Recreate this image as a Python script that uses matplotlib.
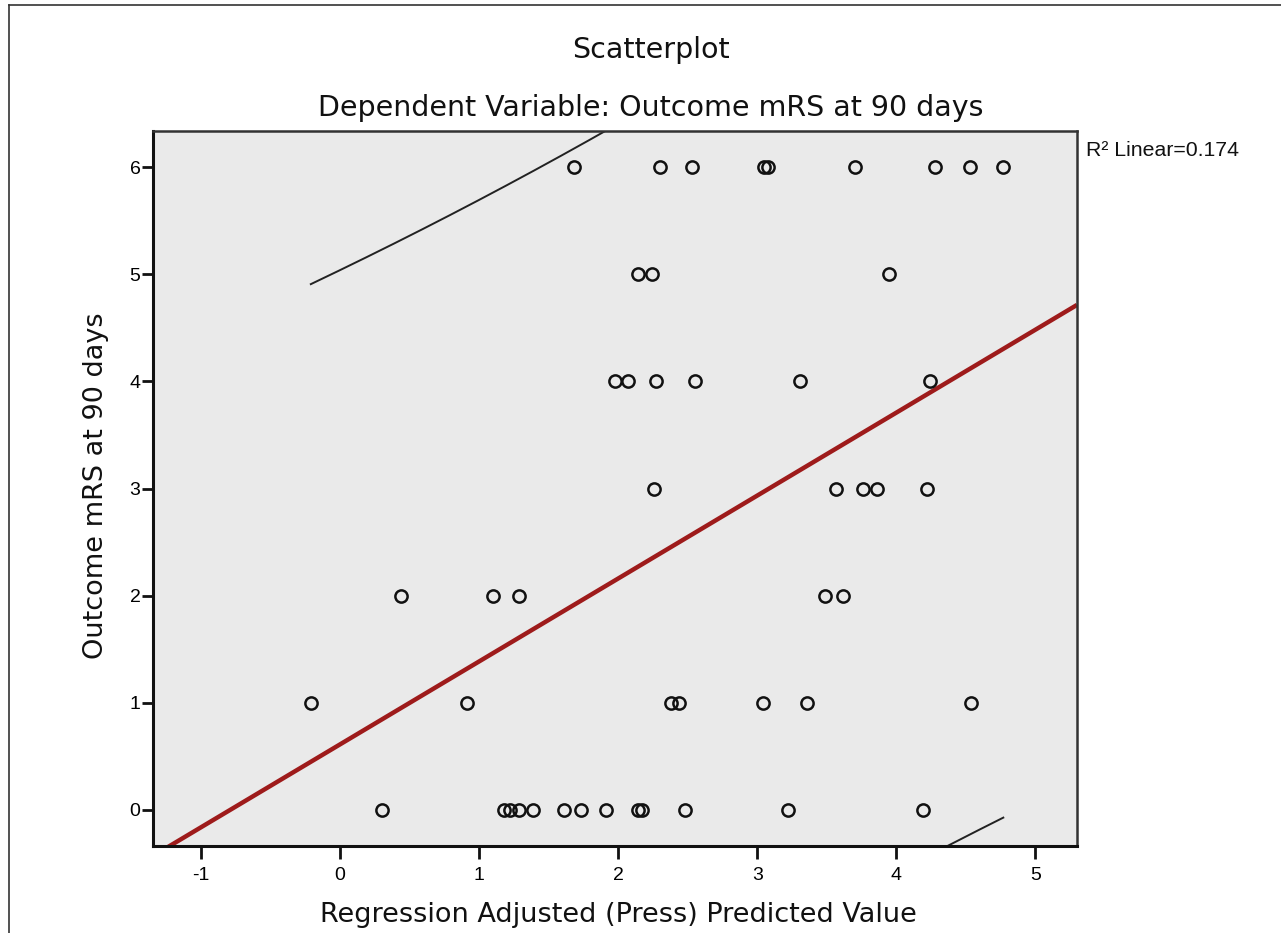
import numpy as np
import matplotlib.pyplot as plt
from matplotlib.lines import Line2D

# valori: predetto (x) per ciascun livello di mRS (y)
x_mrs6 = [1.68, 2.30, 2.53, 3.05, 3.08, 3.70, 4.28, 4.53, 4.77]
x_mrs5 = [2.14, 2.24, 3.95]
x_mrs4 = [1.98, 2.07, 2.27, 2.55, 3.31, 4.24]
x_mrs3 = [2.26, 3.57, 3.76, 3.86, 4.22]
x_mrs2 = [0.44, 1.10, 1.29, 3.49, 3.62]
x_mrs1 = [-0.21, 0.91, 2.38, 2.44, 3.04, 3.36, 4.54]
x_mrs0 = [0.30, 1.18, 1.22, 1.29, 1.39, 1.61, 1.73, 1.91, 2.14, 2.17, 2.48, 3.22, 4.19]

gruppi = [x_mrs0, x_mrs1, x_mrs2, x_mrs3, x_mrs4, x_mrs5, x_mrs6]
x = np.concatenate([np.array(g) for g in gruppi])
y = np.concatenate([np.full(len(g), float(k)) for k, g in enumerate(gruppi)])

r2_text = "R² Linear=0.174"
xticks = [-1, 0, 1, 2, 3, 4, 5]
yticks = [0, 1, 2, 3, 4, 5, 6]

# regressione lineare + intervallo di previsione 95%
b1, b0 = np.polyfit(x, y, 1)
n = len(x)
res = y - (b0 + b1 * x)
s = np.sqrt(np.sum(res ** 2) / (n - 2))
sxx = np.sum((x - x.mean()) ** 2)
t_crit = 2.013  # t(0.975, 46)

xl = (-1.345, 5.30)
yl = (-0.336, 6.336)

fig = plt.figure(figsize=(12.81, 9.33), dpi=100)
ax = fig.add_axes([153 / 1281, 1 - 846 / 933, (1077 - 153) / 1281, (846 - 131) / 933])
ax.set_facecolor('#eaeaea')

xx = np.linspace(xl[0], xl[1], 200)
ax.plot(xx, b0 + b1 * xx, color='#9e1b1b', linewidth=3.2, solid_capstyle='butt', zorder=2)

xb = np.linspace(x.min(), x.max(), 200)
marg = t_crit * s * np.sqrt(1 + 1 / n + (xb - x.mean()) ** 2 / sxx)
ax.plot(xb, b0 + b1 * xb + marg, color='#222222', linewidth=1.4, zorder=2)
ax.plot(xb, b0 + b1 * xb - marg, color='#222222', linewidth=1.4, zorder=2)

ax.plot(x, y, linestyle='none', marker='o', markersize=8.8, markerfacecolor='none',
        markeredgecolor='#111111', markeredgewidth=1.8, zorder=3)

ax.set_xlim(xl)
ax.set_ylim(yl)
ax.set_xticks(xticks)
ax.set_yticks(yticks)
ax.set_xticklabels([str(v) for v in xticks], family='Liberation Sans', fontsize=14)
ax.set_yticklabels([str(v) for v in yticks], family='Liberation Sans', fontsize=14)
ax.tick_params(axis='x', length=9, width=2, pad=6, color='#111111')
ax.tick_params(axis='y', length=8, width=2, pad=1, color='#111111')
for side in ['left', 'bottom']:
    ax.spines[side].set_linewidth(2.2)
    ax.spines[side].set_color('#111111')
for side in ['top', 'right']:
    ax.spines[side].set_linewidth(1.8)
    ax.spines[side].set_color('#333333')

fig.text(651 / 1281, 1 - 50 / 933, 'Scatterplot', ha='center', va='center',
         fontsize=20.5, family='DejaVu Sans', color='#111111')
fig.text(651 / 1281, 1 - 108 / 933, 'Dependent Variable: Outcome mRS at 90 days',
         ha='center', va='center', fontsize=20.5, family='DejaVu Sans', color='#111111')
fig.text(618 / 1281, 1 - 915 / 933, 'Regression Adjusted (Press) Predicted Value',
         ha='center', va='center', fontsize=19.5, family='DejaVu Sans', color='#111111')
fig.text(96 / 1281, 1 - 486 / 933, 'Outcome mRS at 90 days', rotation=90,
         ha='center', va='center', fontsize=19.5, family='DejaVu Sans', color='#111111')
fig.text(1086 / 1281, 1 - 151 / 933, r2_text, ha='left', va='center',
         fontsize=15.3, family='Liberation Sans', color='#111111')

# cornice esterna
fig.add_artist(Line2D([9 / 1281, 1], [1 - 5 / 933, 1 - 5 / 933], color='#333333', linewidth=1.2))
fig.add_artist(Line2D([9 / 1281, 9 / 1281], [0, 1 - 5 / 933], color='#333333', linewidth=1.2))

fig.savefig('out.png', dpi=100)
